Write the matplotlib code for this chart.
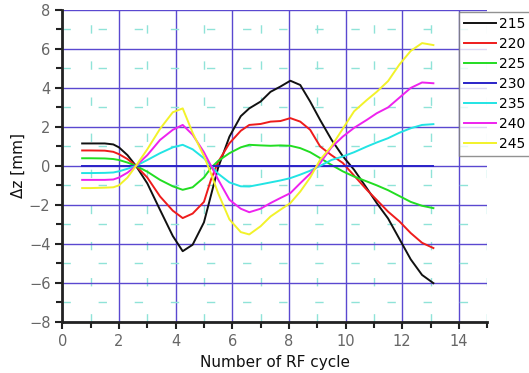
import numpy as np
import matplotlib
matplotlib.use('Agg')
import matplotlib.pyplot as plt
from matplotlib.ticker import MultipleLocator

# RF cycle number (common sampling for all curves)
cycle = [0.7, 1.0, 1.5, 1.8, 2.0, 2.3, 2.6, 3.0, 3.45, 3.9, 4.25, 4.6, 5.0, 5.25,
         5.5, 5.9, 6.3, 6.6, 7.0, 7.35, 7.7, 8.05, 8.4, 8.75, 9.1, 9.5, 9.9, 10.3,
         10.75, 11.1, 11.5, 11.9, 12.3, 12.7, 13.1]

dz_215 = [1.15, 1.15, 1.15, 1.1, 0.95, 0.55, 0.0, -0.9, -2.26, -3.6, -4.38, -4.05, -2.9, -1.5,
          -0.1, 1.5, 2.55, 2.95, 3.3, 3.8, 4.07, 4.37, 4.15, 3.3, 2.36, 1.35, 0.5, -0.2,
          -1.15, -1.91, -2.7, -3.75, -4.8, -5.6, -6.02]
dz_220 = [0.79, 0.79, 0.78, 0.72, 0.6, 0.35, 0.0, -0.6, -1.57, -2.3, -2.68, -2.45, -1.85, -0.7,
          0.2, 1.16, 1.8, 2.1, 2.15, 2.27, 2.3, 2.45, 2.27, 1.85, 1.0, 0.55, 0.15, -0.5,
          -1.23, -1.75, -2.35, -2.85, -3.45, -3.95, -4.22]
dz_225 = [0.39, 0.39, 0.38, 0.35, 0.3, 0.17, 0.0, -0.3, -0.72, -1.05, -1.23, -1.1, -0.6, -0.1,
          0.25, 0.65, 0.95, 1.08, 1.05, 1.03, 1.05, 1.03, 0.91, 0.7, 0.4, 0.05, -0.28, -0.55,
          -0.8, -1.0, -1.25, -1.55, -1.85, -2.05, -2.17]
dz_230 = [0.0] * len(cycle)
dz_235 = [-0.37, -0.37, -0.36, -0.34, -0.28, -0.15, 0.0, 0.3, 0.65, 0.95, 1.08, 0.85, 0.39, 0.0,
          -0.4, -0.85, -1.05, -1.06, -0.95, -0.85, -0.75, -0.63, -0.45, -0.25, 0.0, 0.3, 0.48, 0.7,
          0.99, 1.2, 1.42, 1.7, 1.93, 2.1, 2.14]
dz_240 = [-0.72, -0.72, -0.72, -0.7, -0.6, -0.35, 0.0, 0.55, 1.33, 1.85, 2.1, 1.6, 0.7, 0.0,
          -0.7, -1.74, -2.2, -2.38, -2.2, -1.91, -1.65, -1.4, -0.89, -0.4, 0.14, 0.95, 1.5, 1.95,
          2.36, 2.7, 3.0, 3.5, 4.0, 4.28, 4.24]
dz_245 = [-1.14, -1.14, -1.12, -1.1, -1.0, -0.6, 0.0, 0.85, 1.9, 2.75, 2.95, 1.7, 0.5, -0.4,
          -1.4, -2.75, -3.4, -3.52, -3.1, -2.6, -2.25, -1.91, -1.32, -0.6, 0.31, 1.0, 1.9, 2.8,
          3.38, 3.8, 4.35, 5.2, 5.9, 6.3, 6.2]

labels = ['215', '220', '225', '230', '235', '240', '245']
series = [dz_215, dz_220, dz_225, dz_230, dz_235, dz_240, dz_245]
colors = ['#111111', '#ee1c1c', '#22dd22', '#2a22c8', '#22e4e4', '#ee22ee', '#f2f22a']

plt.rcParams['font.family'] = ['DejaVu Sans']

fig = plt.figure(figsize=(5.29, 3.73), dpi=100)
ax = fig.add_axes([0.1178, 0.1375, 0.8032, 0.8357])

# grid: purple major lines, dashed cyan minor lines
ax.xaxis.set_major_locator(MultipleLocator(2))
ax.xaxis.set_minor_locator(MultipleLocator(1))
ax.yaxis.set_major_locator(MultipleLocator(2))
ax.yaxis.set_minor_locator(MultipleLocator(1))
ax.grid(which='major', color='#5a48d0', linewidth=1.0, zorder=0)
ax.grid(which='minor', color='#8fe3d8', linewidth=1.0, linestyle=(0, (6, 20)), zorder=0)
ax.set_axisbelow(True)

for y, lab, col in zip(series, labels, colors):
    ax.plot(cycle, y, color=col, linewidth=1.4, label=lab, zorder=3)

ax.set_xlim(0, 15)
ax.set_ylim(-8, 8)

for s in ['top', 'right']:
    ax.spines[s].set_visible(False)
for s in ['left', 'bottom']:
    ax.spines[s].set_linewidth(2.0)
    ax.spines[s].set_color('#222222')

ax.tick_params(which='major', direction='out', length=5, width=1.5, colors='#222222',
               labelcolor='#666666', labelsize=10.5)
ax.tick_params(which='minor', direction='out', length=4, width=1.5, colors='#222222')
ax.xaxis.set_ticks(np.arange(0, 15, 2))

ax.set_xlabel('Number of RF cycle', fontsize=11, color='#111111', labelpad=5)
ax.set_ylabel('Δz [mm]', fontsize=11, color='#111111', labelpad=2)

leg = ax.legend(loc='upper left', bbox_to_anchor=(459 / 529, 1 - 12 / 373),
                bbox_transform=fig.transFigure, fontsize=10, frameon=True,
                fancybox=False, borderpad=0.35, labelspacing=0.43, handlelength=2.3,
                handletextpad=0.2, borderaxespad=0)
leg.get_frame().set_edgecolor('#777777')
leg.get_frame().set_linewidth(1.0)

fig.savefig('out.png', dpi=100)
